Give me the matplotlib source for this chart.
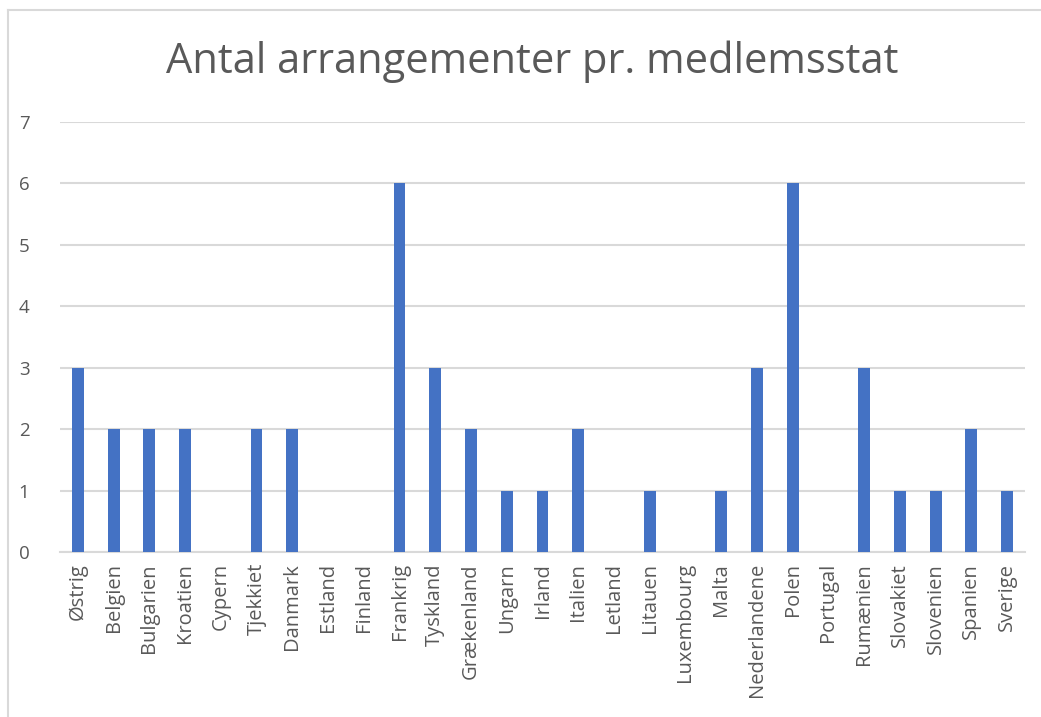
import matplotlib
matplotlib.use("Agg")
import matplotlib.pyplot as plt
from matplotlib.lines import Line2D

title = "Antal arrangementer pr. medlemsstat"
countries = ["Østrig", "Belgien", "Bulgarien", "Kroatien", "Cypern", "Tjekkiet", "Danmark",
             "Estland", "Finland", "Frankrig", "Tyskland", "Grækenland", "Ungarn", "Irland",
             "Italien", "Letland", "Litauen", "Luxembourg", "Malta", "Nederlandene", "Polen",
             "Portugal", "Rumænien", "Slovakiet", "Slovenien", "Spanien", "Sverige"]
values = [3, 2, 2, 2, 0, 2, 2, 0, 0, 6, 3, 2, 1, 1, 2, 0, 1, 0, 1, 3, 6, 0, 3, 1, 1, 2, 1]
yticks = [0, 1, 2, 3, 4, 5, 6, 7]

plt.rcParams['font.family'] = ['Open Sans', 'DejaVu Sans']
text_color = "#595959"

W, H = 1041, 717
fig = plt.figure(figsize=(W / 100, H / 100), dpi=100)
fig.patch.set_facecolor("white")

# chart border
fig.add_artist(Line2D([8 / W, 8 / W], [0, 1 - 10 / H], transform=fig.transFigure,
                      color="#D9D9D9", lw=1.5))
fig.add_artist(Line2D([8 / W, 1], [1 - 10 / H, 1 - 10 / H], transform=fig.transFigure,
                      color="#D9D9D9", lw=1.5))

left, right = 60 / W, 1025 / W
bottom, top = 1 - 552 / H, 1 - 122 / H
ax = fig.add_axes([left, bottom, right - left, top - bottom])
x = list(range(len(countries)))
ax.bar(x, values, width=0.33, color="#4472C4", zorder=3)
ax.set_xlim(-0.5, len(countries) - 0.5)
ax.set_ylim(0, 7)
ax.set_yticks(yticks)
ax.set_yticklabels([str(v) for v in yticks], fontsize=13.5, color=text_color)
ax.set_xticks(x)
ax.set_xticklabels(countries, rotation=90, fontsize=14.5, color=text_color)
ax.tick_params(axis='y', length=0, pad=22)
ax.tick_params(axis='x', length=0, pad=8)
ax.grid(axis='y', color="#D9D9D9", lw=1.5, zorder=0)
ax.set_axisbelow(True)
for s in ["top", "right", "left"]:
    ax.spines[s].set_visible(False)
ax.spines["bottom"].set_color("#D9D9D9")
ax.spines["bottom"].set_linewidth(1.5)

fig.text(532 / W, 1 - 62 / H, title, ha="center", va="center", fontsize=30,
         color=text_color)

fig.savefig("out.png", dpi=100)
